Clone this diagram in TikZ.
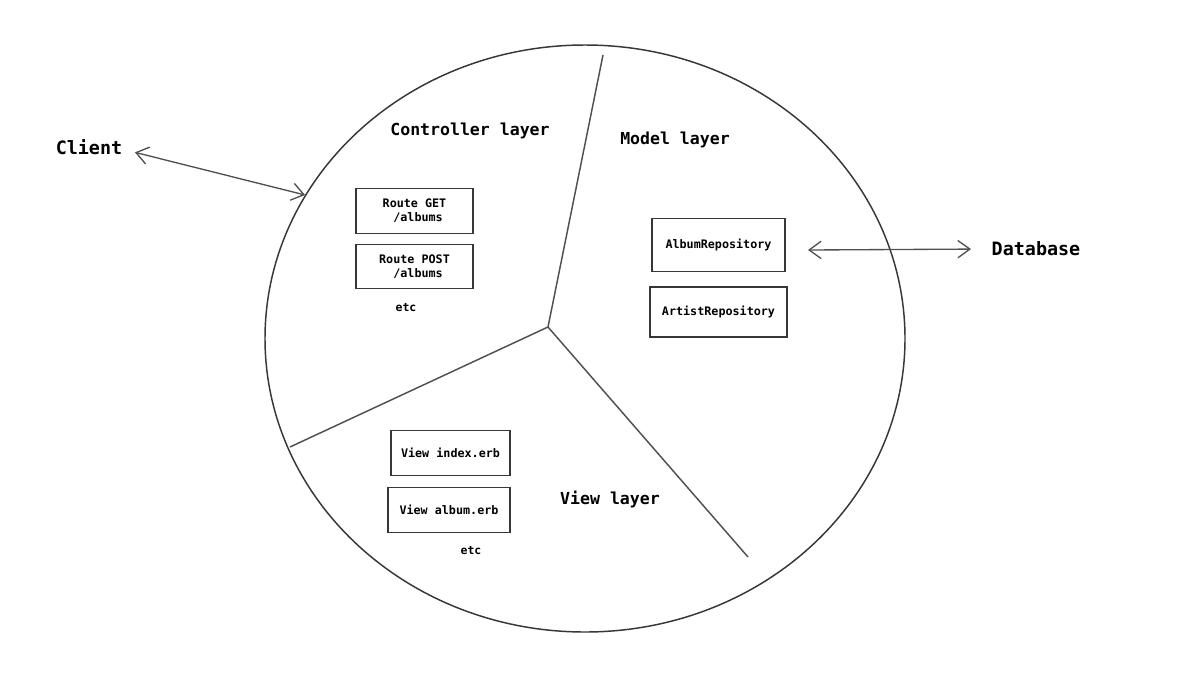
\documentclass[tikz,border=0pt]{standalone}
\usepackage{fontspec}
\setmonofont{DejaVu Sans Mono}
\usepackage{xcolor}
\usepackage{tikz}
\usetikzlibrary{arrows.meta, positioning}
\definecolor{sketch_ink}{RGB}{55, 55, 55}
\definecolor{sketch_grey}{RGB}{80, 80, 80}

\begin{document}
\begin{tikzpicture}[x=0.75pt, y=-0.75pt,
    layerlabel/.style={font=\ttfamily\bfseries\fontsize{12.4}{14}\selectfont},
    endlabel/.style={font=\ttfamily\bfseries\fontsize{13.8}{16}\selectfont},
    smalltext/.style={font=\ttfamily\bfseries\fontsize{8.6}{10.5}\selectfont},
    codebox/.style 2 args={draw=sketch_ink, line width=0.8pt, inner sep=0pt,
        align=center, minimum width=#1*0.75pt, minimum height=#2*0.75pt,
        font=\ttfamily\bfseries\fontsize{8.8}{10.5}\selectfont},
    dualarrow/.style={draw=sketch_grey, line width=1pt,
        {Straight Barb[length=9pt,width=13pt]}-{Straight Barb[length=9pt,width=13pt]}}]
    \useasboundingbox (0,0) rectangle (1182,697);
    \fill[white] (0,0) rectangle (1182,697);

    % The app
    \draw[sketch_ink, line width=1.1pt] (585,338.5) ellipse [x radius=320, y radius=293.5];
    % Layer borders
    \coordinate (hub) at (548,327);
    \draw[sketch_grey, line width=1.1pt] (hub) -- (603,55);
    \draw[sketch_grey, line width=1.1pt] (hub) -- (290,447);
    \draw[sketch_grey, line width=1.1pt] (hub) -- (748,557);

    % Layer names
    \node[layerlabel] (controllerlayer) at (470,131) {Controller layer};
    \node[layerlabel] (modellayer) at (675,140) {Model layer};
    \node[layerlabel] (viewlayer) at (610,499) {View layer};

    % Controller layer
    \node[codebox={117}{45}] (getroute) at (414.5,211) {Route GET\\\hphantom{/}/albums};
    \node[codebox={117}{44}] (postroute) at (414.5,266.5) {Route POST\\\hphantom{/}/albums};
    \node[smalltext] (controlleretc) at (406,308) {etc};

    % Model layer
    \node[codebox={133}{53}] (albumrepo) at (718.5,245) {AlbumRepository};
    \node[codebox={137}{50}] (artistrepo) at (718.5,312) {ArtistRepository};

    % View layer
    \node[codebox={119}{45}] (indexview) at (450.5,453) {View index.erb};
    \node[codebox={122}{45}] (albumview) at (449,510) {View album.erb};
    \node[smalltext] (viewetc) at (471,551) {etc};

    % Outside
    \node[endlabel] (client) at (89,147) {Client};
    \node[endlabel] (database) at (1036,249) {Database};
    \coordinate (clientport) at (305,195);
    \coordinate (dbport) at (808,250);
    \draw[dualarrow] ([xshift=6pt, yshift=-4pt]client.east) -- (clientport);
    \draw[dualarrow, shorten >=12pt] (dbport) -- (database.west);
\end{tikzpicture}
\end{document}
